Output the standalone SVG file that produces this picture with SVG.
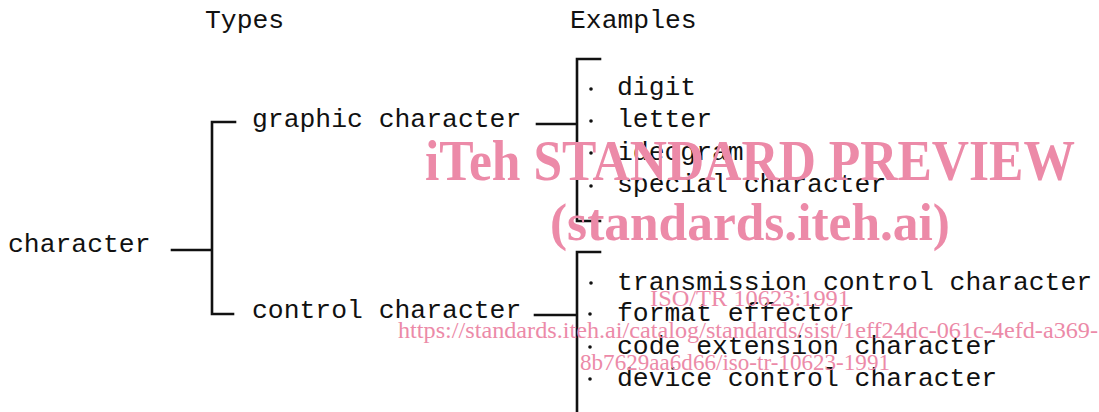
<svg xmlns="http://www.w3.org/2000/svg" width="1099" height="412" viewBox="0 0 1099 412">
<style>
.t{font-family:"Liberation Mono","DejaVu Sans Mono",monospace;font-size:26.4px;fill:#111}
.l{stroke:#111;stroke-width:2.6;fill:none;stroke-linecap:square}
.b{fill:#111}
.w{font-family:"Liberation Serif","Times New Roman",serif;fill:#ec8aa8}
.wb{font-weight:bold}
</style>
<rect width="1099" height="412" fill="#fff"/>
<g id="headers">
<text class="t" x="205" y="28">Types</text>
<text class="t" x="570" y="28">Examples</text>
</g>
<g id="connectors">
<path class="l" d="M172 250 H212 M235 122 H212 V314 H233"/>
<path class="l" d="M537 124 H577 M600 59 H577 V221 H600"/>
<path class="l" d="M535 315 H577 M600 252 H577 V412"/>
</g>
<g id="character"><text class="t" x="8" y="252">character</text></g>
<g id="graphic"><text class="t" x="252" y="127">graphic character</text></g>
<g id="control"><text class="t" x="252" y="318">control character</text></g>
<g id="graphic-examples">
<circle class="b" cx="591" cy="89" r="1.8"/><text class="t" x="617" y="95">digit</text>
<circle class="b" cx="591" cy="121" r="1.8"/><text class="t" x="617" y="127">letter</text>
<circle class="b" cx="591" cy="153" r="1.8"/><text class="t" x="617" y="160">ideogram</text>
<circle class="b" cx="591" cy="186" r="1.8"/><text class="t" x="617" y="192">special character</text>
</g>
<g id="control-examples">
<circle class="b" cx="591" cy="283" r="1.8"/><text class="t" x="617" y="290">transmission control character</text>
<circle class="b" cx="590" cy="314" r="1.8"/><text class="t" x="617" y="321">format effector</text>
<circle class="b" cx="590" cy="347" r="1.8"/><text class="t" x="617" y="354">code extension character</text>
<circle class="b" cx="590" cy="379" r="1.8"/><text class="t" x="617" y="386">device control character</text>
</g>
<g id="watermark">
<text class="w wb" x="425" y="180" font-size="56" textLength="650" lengthAdjust="spacingAndGlyphs">iTeh STANDARD PREVIEW</text>
<text class="w wb" x="550" y="240" font-size="52" textLength="400" lengthAdjust="spacingAndGlyphs">(standards.iteh.ai)</text>
<text class="w" x="650" y="306" font-size="24" textLength="200" lengthAdjust="spacingAndGlyphs">ISO/TR 10623:1991</text>
<text class="w" x="398" y="338" font-size="24" textLength="700" lengthAdjust="spacingAndGlyphs">https://standards.iteh.ai/catalog/standards/sist/1eff24dc-061c-4efd-a369-</text>
<text class="w" x="580" y="370" font-size="24" textLength="310" lengthAdjust="spacingAndGlyphs">8b7629aa6d66/iso-tr-10623-1991</text>
</g>
</svg>
